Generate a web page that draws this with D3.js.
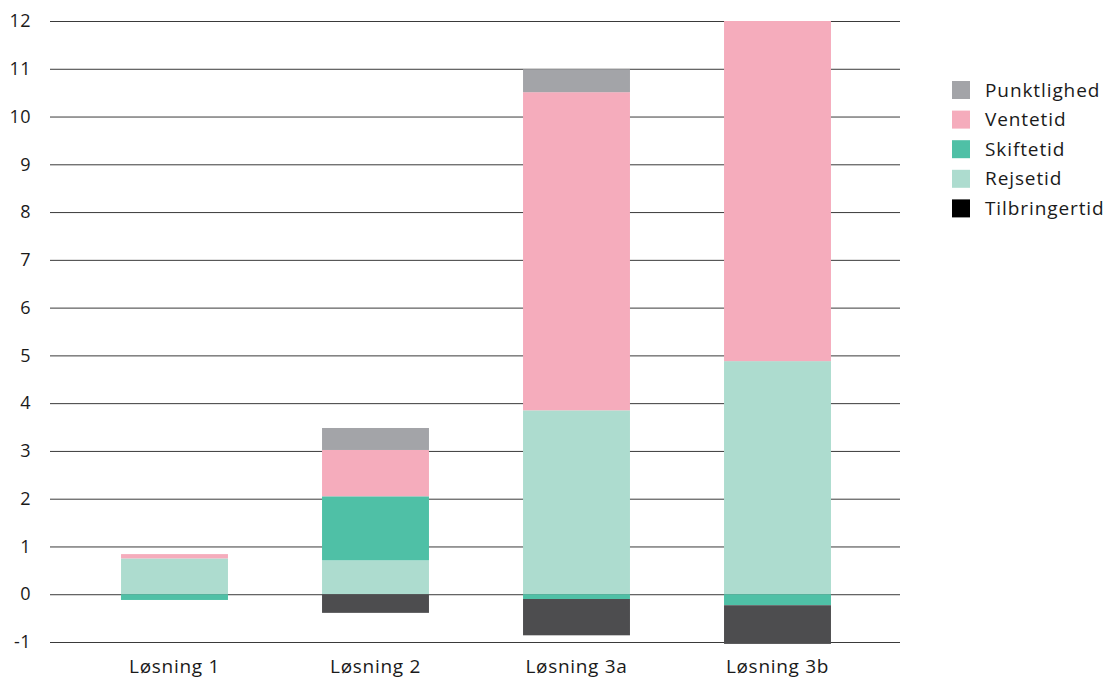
<!DOCTYPE html>
<html>
<head>
<meta charset="utf-8">
<script src="https://cdn.jsdelivr.net/npm/d3@7"></script>
<style>
  body { margin: 0; background: #fff; }
  text { font-family: "Open Sans", sans-serif; fill: #1a1a1a; }
</style>
</head>
<body>
<div class="chart"></div>
<script>
// chart data
var categories = ["Løsning 1", "Løsning 2", "Løsning 3a", "Løsning 3b"];
// stack order: first key sits next to zero on each side
var seriesNames = ["Rejsetid", "Skiftetid", "Tilbringertid", "Ventetid", "Punktlighed"];
var tilbringertid = [0, -0.39, -0.76, -0.81];
var skiftetid = [-0.12, 1.34, -0.1, -0.23];
var rejsetid = [0.75, 0.71, 3.85, 4.88];
var ventetid = [0.09, 0.97, 6.66, 7.12];
var punktlighed = [0, 0.46, 0.48, 0];
var yTicks = [-1, 0, 1, 2, 3, 4, 5, 6, 7, 8, 9, 10, 11, 12];
var legendOrder = ["Punktlighed", "Ventetid", "Skiftetid", "Rejsetid", "Tilbringertid"];

var colors = {
    "Tilbringertid": "#4d4d4f",
    "Skiftetid": "#4fc0a6",
    "Rejsetid": "#addccf",
    "Ventetid": "#f5acbc",
    "Punktlighed": "#a3a4a8"
};
var legendColors = Object.assign({}, colors, { "Tilbringertid": "#000000" });

var svgWidth = 1106;
var svgHeight = 679;

var svg = d3.select(".chart")
    .append("svg")
    .attr("width", svgWidth)
    .attr("height", svgHeight);

// build rows for the stack
var valuesBySeries = {
    "Tilbringertid": tilbringertid,
    "Skiftetid": skiftetid,
    "Rejsetid": rejsetid,
    "Ventetid": ventetid,
    "Punktlighed": punktlighed
};
var rows = categories.map(function (c, i) {
    var r = { category: c };
    seriesNames.forEach(function (s) { r[s] = valuesBySeries[s][i]; });
    return r;
});

var stacked = d3.stack()
    .keys(seriesNames)
    .offset(d3.stackOffsetDiverging)(rows);

// scales
var xScale = d3.scaleBand()
    .domain(categories)
    .range([74, 878])
    .paddingInner(0.468)
    .paddingOuter(0.234);

var yScale = d3.scaleLinear()
    .domain([-1, 12])
    .range([642, 21]);

// gridlines
svg.append("g")
    .selectAll("line")
    .data(yTicks)
    .enter()
    .append("line")
    .attr("x1", 50)
    .attr("x2", 900)
    .attr("y1", function (d) { return yScale(d) + 0.5; })
    .attr("y2", function (d) { return yScale(d) + 0.5; })
    .attr("stroke", "#3a3a3a")
    .attr("stroke-width", 1);

// y-axis labels
var yAxis = d3.axisLeft(yScale)
    .tickValues(yTicks)
    .tickSize(0)
    .tickPadding(0)
    .tickFormat(function (d) { return d < 0 ? "-" + Math.abs(d) : d; });

var yG = svg.append("g")
    .attr("transform", "translate(31,0)")
    .call(yAxis);
yG.select(".domain").remove();
yG.selectAll("text")
    .attr("font-size", "18px")
    .attr("font-family", "'Open Sans', sans-serif")
    .attr("letter-spacing", "0.5px")
    .attr("fill", "#1a1a1a");

// bars
svg.append("g")
    .selectAll("g")
    .data(stacked)
    .enter()
    .append("g")
    .attr("fill", function (d) { return colors[d.key]; })
    .selectAll("rect")
    .data(function (d) { return d; })
    .enter()
    .append("rect")
    .attr("x", function (d) { return xScale(d.data.category); })
    .attr("width", xScale.bandwidth())
    .attr("y", function (d) { return yScale(d[1]); })
    .attr("height", function (d) { return Math.abs(yScale(d[0]) - yScale(d[1])); });

// x-axis labels
var xAxis = d3.axisBottom(xScale).tickSize(0).tickPadding(0);
var xG = svg.append("g")
    .attr("transform", "translate(0,659)")
    .call(xAxis);
xG.select(".domain").remove();
xG.selectAll("text")
    .attr("font-size", "19px")
    .attr("font-family", "'Open Sans', sans-serif")
    .attr("letter-spacing", "0.7px")
    .attr("fill", "#1a1a1a");

// legend
var legend = svg.append("g")
    .selectAll("g")
    .data(legendOrder)
    .enter()
    .append("g")
    .attr("transform", function (d, i) { return "translate(952," + (81 + i * 29.6) + ")"; });

legend.append("rect")
    .attr("width", 18)
    .attr("height", 18)
    .attr("fill", function (d) { return legendColors[d]; });

legend.append("text")
    .attr("x", 33)
    .attr("y", 9)
    .attr("dy", "0.35em")
    .attr("font-size", "19px")
    .attr("letter-spacing", "0.9px")
    .text(function (d) { return d; });
</script>
</body>
</html>
